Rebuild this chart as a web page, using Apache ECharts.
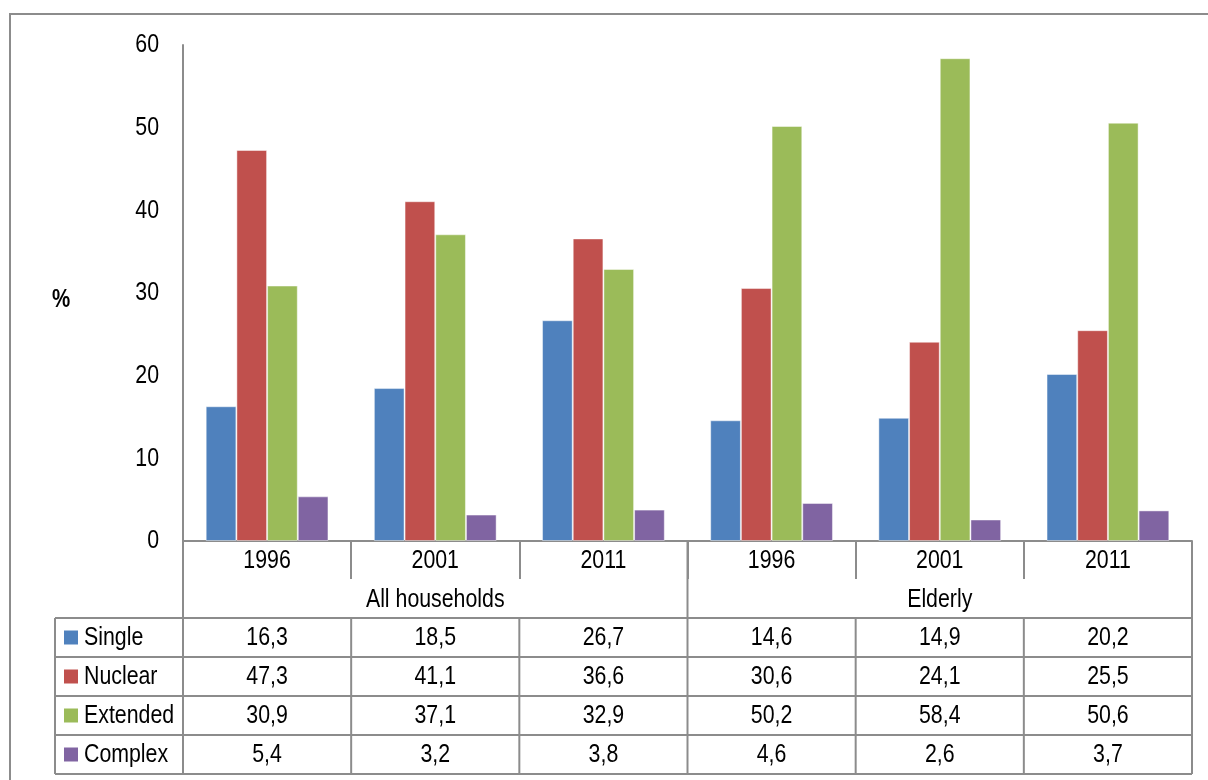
<!DOCTYPE html>
<html>
<head>
<meta charset="utf-8">
<script src="https://cdn.jsdelivr.net/npm/echarts@6/dist/echarts.min.js"></script>
<style>
  html, body { margin: 0; padding: 0; background: #fff; }
  #chart { width: 1208px; height: 780px; }
</style>
</head>
<body>
<div id="chart"></div>
<script>
// Household composition by year, for all households and for the elderly (%)
const years = ['1996', '2001', '2011'];
const groups = ['All households', 'Elderly'];
const seriesNames = ['Single', 'Nuclear', 'Extended', 'Complex'];
const single   = [16.3, 18.5, 26.7, 14.6, 14.9, 20.2];
const nuclear  = [47.3, 41.1, 36.6, 30.6, 24.1, 25.5];
const extended = [30.9, 37.1, 32.9, 50.2, 58.4, 50.6];
const complex  = [5.4, 3.2, 3.8, 4.6, 2.6, 3.7];
const yTicks = [0, 10, 20, 30, 40, 50, 60];

const seriesValues = [single, nuclear, extended, complex];
const colors = ['#4F81BD', '#C0504D', '#9BBB59', '#8064A2'];
const FONT = '"Liberation Sans", Arial, sans-serif';
const NARROW = 0.82;          // condensed face: regular sans squeezed horizontally
const LINE = '#8c8c8c';

// one category per (group, year) pair
const keys = [];
groups.forEach(g => years.forEach(y => keys.push(g + '|' + y)));
const fmt = v => v.toFixed(1).replace('.', ',');

const chart = echarts.init(document.getElementById('chart'), null, { renderer: 'canvas' });

chart.setOption({
  animation: false,
  backgroundColor: '#fff',
  grid: { left: 183, right: 16, top: 45, bottom: 239, containLabel: false },
  xAxis: {
    type: 'category',
    data: keys,
    boundaryGap: true,
    axisLine: { show: true, lineStyle: { color: LINE, width: 2 } },
    axisTick: { show: true, alignWithLabel: false, interval: 0, length: 38, lineStyle: { color: LINE, width: 2 } },
    axisLabel: { show: false },
    splitLine: { show: false }
  },
  yAxis: {
    type: 'value',
    min: yTicks[0], max: yTicks[yTicks.length - 1], interval: yTicks[1] - yTicks[0],
    axisLine: { show: true, lineStyle: { color: LINE, width: 2 } },
    axisTick: { show: false },
    axisLabel: { show: false },
    splitLine: { show: false }
  },
  series: seriesNames.map((name, i) => ({
    name,
    type: 'bar',
    data: seriesValues[i],
    barGap: '0%',
    barCategoryGap: '27%',
    itemStyle: { color: colors[i], borderColor: 'rgba(255,255,255,0.45)', borderWidth: 1 }
  }))
});

// Labels and data table, laid out from the axis scales
const c0 = chart.convertToPixel({ xAxisIndex: 0 }, 0);
const c1 = chart.convertToPixel({ xAxisIndex: 0 }, 1);
const band = c1 - c0;
const left = c0 - band / 2;
const right = left + band * keys.length;
const base = chart.convertToPixel({ yAxisIndex: 0 }, yTicks[0]);
const rowH = 39;
const tableTop = base + 2 * rowH - 1;
const tableLeft = 55;
const tableBottom = tableTop + rowH * seriesNames.length;

const els = [];
const line = (x1, y1, x2, y2) => els.push({
  type: 'line', silent: true,
  shape: { x1, y1, x2, y2 },
  style: { stroke: LINE, lineWidth: 2 }
});
const text = (x, y, str, align, font) => els.push({
  type: 'text', silent: true,
  x, y, scaleX: NARROW,
  style: { x: 0, y: 0, text: str, fill: '#000', font: font || ('26px ' + FONT), align, verticalAlign: 'middle' }
});

// outer chart frame
els.push({ type: 'rect', silent: true, shape: { x: 10, y: 14, width: 1400, height: 1000 },
  style: { fill: 'none', stroke: LINE, lineWidth: 2 } });

// y tick labels
yTicks.forEach(t => text(left - 24, chart.convertToPixel({ yAxisIndex: 0 }, t), String(t), 'right'));

// year labels
keys.forEach((k, i) => text(chart.convertToPixel({ xAxisIndex: 0 }, i), base + 20, k.split('|')[1], 'center'));

// vertical lines: axis extension, group split, right edge, columns in the value rows
line(left, base, left, tableBottom);
line(left + band * years.length, base, left + band * years.length, tableBottom);
line(right, base, right, tableBottom);
for (let i = 1; i < keys.length; i++) {
  if (i % years.length !== 0) line(left + band * i, tableTop, left + band * i, tableBottom);
}
line(tableLeft, tableTop, tableLeft, tableBottom);
// horizontal row lines
for (let r = 0; r <= seriesNames.length; r++) {
  line(tableLeft, tableTop + r * rowH, right, tableTop + r * rowH);
}

// group labels
groups.forEach((g, gi) => {
  const cx = left + band * (gi * years.length + years.length / 2);
  text(cx, base + rowH * 1.5, g, 'center');
});

// legend keys and values
seriesNames.forEach((name, si) => {
  const cy = tableTop + rowH * (si + 0.5);
  els.push({ type: 'rect', silent: true, shape: { x: 64, y: cy - 7, width: 14, height: 14 },
    style: { fill: colors[si] } });
  text(84, cy, name, 'left');
  seriesValues[si].forEach((v, ci) => {
    text(left + band * (ci + 0.5), cy, fmt(v), 'center');
  });
});

// y axis unit
text(61, 300, '%', 'center', 'bold 25px ' + FONT);

chart.setOption({ graphic: { elements: els } });
</script>
</body>
</html>
